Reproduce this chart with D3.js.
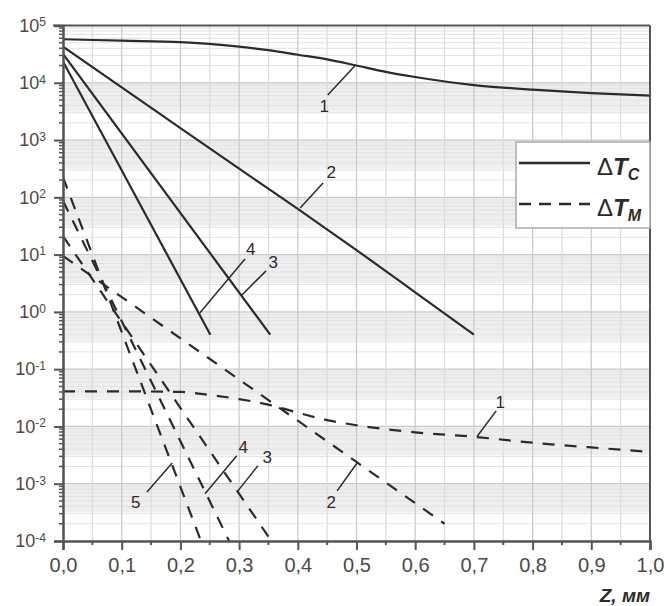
<!DOCTYPE html>
<html>
<head>
<meta charset="utf-8">
<script src="https://cdn.jsdelivr.net/npm/d3@7"></script>
<style>
  body { margin: 0; background: #fff; }
  text { font-family: "Liberation Sans", Arial, sans-serif; }
</style>
</head>
<body>
<svg id="chart" width="668" height="606"></svg>
<script>
// Z, mm on the bottom, log dT on the left
const zTicks = [0, 0.1, 0.2, 0.3, 0.4, 0.5, 0.6, 0.7, 0.8, 0.9, 1.0];
const zTickLabels = ["0,0", "0,1", "0,2", "0,3", "0,4", "0,5", "0,6", "0,7", "0,8", "0,9", "1,0"];
const decadeExp = [-4, -3, -2, -1, 0, 1, 2, 3, 4, 5];

// solid curves (dTc)
const tc1Z = [0, 0.1, 0.2, 0.3, 0.35, 0.4, 0.45, 0.5, 0.55, 0.6, 0.7, 0.8, 0.9, 1.0];
const tc1V = [5.75e4, 5.43e4, 5.13e4, 4.27e4, 3.72e4, 3.09e4, 2.57e4, 2.0e4, 1.55e4, 1.26e4, 9.1e3, 7.6e3, 6.6e3, 5.96e3];
const tc2Z = [0, 0.1, 0.2, 0.3, 0.4, 0.5, 0.6, 0.7];
const tc2V = [4.27e4, 8.3e3, 1.62e3, 316, 63, 12, 2.2, 0.4];
const tc3Z = [0, 0.353];
const tc3V = [3.2e4, 0.4];
const tc4Z = [0, 0.251];
const tc4V = [2.35e4, 0.4];

// dashed curves (dTm)
const tm1Z = [0, 0.1, 0.2, 0.25, 0.3, 0.35, 0.4, 0.45, 0.5, 0.6, 0.7, 0.8, 0.9, 1.0];
const tm1V = [0.041, 0.041, 0.040, 0.0355, 0.030, 0.024, 0.0174, 0.0129, 0.0105, 0.0079, 0.0066, 0.0052, 0.0043, 0.0036];
const tm2Z = [0, 0.65];
const tm2V = [9.5, 2.0e-4];
const tm3Z = [0, 0.355];
const tm3V = [21, 1e-4];
const tm4Z = [0, 0.283];
const tm4V = [87, 1e-4];
const tm5Z = [0, 0.235];
const tm5V = [224, 1e-4];

// curve numbers with their leader lines
const solidNotes = [
  {t: "1", z: 0.445, v: 3.1e3, lead: [[0.451, 6.1e3], [0.497, 1.96e4]]},
  {t: "2", z: 0.457, v: 218, lead: [[0.443, 178], [0.404, 65]]},
  {t: "4", z: 0.320, v: 9.9, lead: [[0.310, 8.4], [0.233, 0.96]]},
  {t: "3", z: 0.358, v: 5.9, lead: [[0.346, 5.2], [0.303, 1.9]]}
];
const dashedNotes = [
  {t: "1", z: 0.745, v: 0.0211, lead: [[0.738, 0.0187], [0.705, 6.6e-3]]},
  {t: "2", z: 0.457, v: 3.8e-4, lead: [[0.467, 7.5e-4], [0.501, 2.3e-3]]},
  {t: "3", z: 0.348, v: 2.3e-3, lead: [[0.332, 2.06e-3], [0.298, 7.5e-4]]},
  {t: "4", z: 0.307, v: 3.5e-3, lead: [[0.296, 3.07e-3], [0.242, 6.7e-4]]},
  {t: "5", z: 0.124, v: 3.8e-4, lead: [[0.143, 7.2e-4], [0.186, 2.3e-3]]}
];

const W = 668, H = 606;
const plotLeft = 63, plotRight = 650, plotTop = 25.5, plotBottom = 541;
const ink = "#2b2b2b";
const axisGrey = "#555";

const svg = d3.select("#chart");
svg.append("rect").attr("width", W).attr("height", H).attr("fill", "#fff");

const x = d3.scaleLinear().domain([0, 1]).range([plotLeft, plotRight]);
const y = d3.scaleLog().domain([1e-4, 1e5]).range([plotBottom, plotTop]);

// grey bands in the upper half of each decade
const bandGroup = svg.append("g");
bandGroup.selectAll("rect")
  .data(decadeExp.filter(k => k > -4 && k < 5))
  .join("rect")
  .attr("x", plotLeft)
  .attr("width", plotRight - plotLeft)
  .attr("y", k => y(Math.pow(10, k)))
  .attr("height", k => y(Math.pow(10, k - 0.5)) - y(Math.pow(10, k)))
  .attr("fill", "#efefef");

// grid
const gridGroup = svg.append("g");
const minorVals = [];
decadeExp.filter(k => k < 5).forEach(k => {
  for (let m = 2; m <= 9; m++) minorVals.push(m * Math.pow(10, k));
});
gridGroup.selectAll("line.hmin")
  .data(minorVals)
  .join("line")
  .attr("class", "hmin")
  .attr("x1", plotLeft).attr("x2", plotRight)
  .attr("y1", d => y(d)).attr("y2", d => y(d))
  .attr("stroke", "#e2e2e2").attr("stroke-width", 1);
gridGroup.selectAll("line.hmaj")
  .data(decadeExp.map(k => Math.pow(10, k)))
  .join("line")
  .attr("class", "hmaj")
  .attr("x1", plotLeft).attr("x2", plotRight)
  .attr("y1", d => y(d)).attr("y2", d => y(d))
  .attr("stroke", "#c9c9c9").attr("stroke-width", 1.2);
const zGrid = d3.range(0, 21).map(i => i * 0.05);
gridGroup.selectAll("line.v")
  .data(zGrid)
  .join("line")
  .attr("class", "v")
  .attr("x1", d => x(d)).attr("x2", d => x(d))
  .attr("y1", plotTop).attr("y2", plotBottom)
  .attr("stroke", (d, i) => i % 2 === 0 ? "#c9c9c9" : "#dcdcdc")
  .attr("stroke-width", 1.2);

// curves
svg.append("clipPath").attr("id", "plotClip")
  .append("rect").attr("x", plotLeft).attr("y", plotTop)
  .attr("width", plotRight - plotLeft).attr("height", plotBottom - plotTop);

const line = d3.line()
  .x(d => x(d[0]))
  .y(d => y(d[1]))
  .curve(d3.curveMonotoneX);

const solid = [[tc1Z, tc1V], [tc2Z, tc2V], [tc3Z, tc3V], [tc4Z, tc4V]];
const dashed = [[tm1Z, tm1V], [tm2Z, tm2V], [tm3Z, tm3V], [tm4Z, tm4V], [tm5Z, tm5V]];

const curveGroup = svg.append("g").attr("clip-path", "url(#plotClip)");
curveGroup.selectAll("path.solid")
  .data(solid)
  .join("path")
  .attr("class", "solid")
  .attr("d", s => line(d3.zip(s[0], s[1])))
  .attr("fill", "none").attr("stroke", ink).attr("stroke-width", 2.2);
curveGroup.selectAll("path.dashed")
  .data(dashed)
  .join("path")
  .attr("class", "dashed")
  .attr("d", s => line(d3.zip(s[0], s[1])))
  .attr("fill", "none").attr("stroke", ink).attr("stroke-width", 2.2)
  .attr("stroke-dasharray", "12,10");

// numbers + leaders
const noteLine = d3.line().x(d => x(d[0])).y(d => y(d[1]));
const noteGroup = svg.append("g");
const notes = solidNotes.concat(dashedNotes);
noteGroup.selectAll("path")
  .data(notes)
  .join("path")
  .attr("d", n => noteLine(n.lead))
  .attr("fill", "none").attr("stroke", ink).attr("stroke-width", 1.5);
noteGroup.selectAll("text")
  .data(notes)
  .join("text")
  .attr("x", n => x(n.z))
  .attr("y", n => y(n.v))
  .attr("text-anchor", "middle")
  .attr("font-size", 17)
  .attr("fill", ink)
  .text(n => n.t);

// frame
svg.append("line").attr("x1", 53).attr("x2", plotRight).attr("y1", plotTop).attr("y2", plotTop)
  .attr("stroke", axisGrey).attr("stroke-width", 2);
svg.append("line").attr("x1", plotRight).attr("x2", plotRight).attr("y1", plotTop).attr("y2", plotBottom)
  .attr("stroke", axisGrey).attr("stroke-width", 2);

// x axis
const xAxis = d3.axisBottom(x)
  .tickValues(zTicks)
  .tickFormat((d, i) => zTickLabels[i])
  .tickSize(9)
  .tickPadding(8);
const gx = svg.append("g").attr("transform", `translate(0,${plotBottom})`).call(xAxis);
gx.select(".domain").attr("stroke", axisGrey).attr("stroke-width", 2.5);
gx.selectAll(".tick line").attr("stroke", axisGrey).attr("stroke-width", 2);
gx.selectAll(".tick text")
  .attr("font-size", 20).attr("fill", "#4a4a4a")
  .attr("font-family", "'Liberation Sans', Arial, sans-serif");
gx.selectAll("line.xminor")
  .data(zGrid.filter((d, i) => i % 2 === 1))
  .join("line")
  .attr("class", "xminor")
  .attr("x1", d => x(d)).attr("x2", d => x(d))
  .attr("y1", 0).attr("y2", 4)
  .attr("stroke", axisGrey).attr("stroke-width", 2);

// y axis
const yAxis = d3.axisLeft(y)
  .tickValues(decadeExp.map(k => Math.pow(10, k)))
  .tickFormat("")
  .tickSize(9)
  .tickPadding(6);
const gy = svg.append("g").attr("transform", `translate(${plotLeft},0)`).call(yAxis);
gy.select(".domain").attr("stroke", axisGrey).attr("stroke-width", 2.5);
gy.selectAll(".tick line").attr("stroke", axisGrey).attr("stroke-width", 2);
gy.selectAll(".tick text").remove();
gy.selectAll(".tick").each(function(d) {
  const t = d3.select(this).append("text")
    .attr("x", -17).attr("dy", "0.32em")
    .attr("text-anchor", "end")
    .attr("font-size", 18).attr("fill", "#4a4a4a")
    .attr("font-family", "'Liberation Sans', Arial, sans-serif");
  t.append("tspan").text("10");
  t.append("tspan").attr("dy", "-0.45em").attr("font-size", 12)
    .text(String(Math.round(Math.log10(d))));
});
gy.selectAll("line.yminor")
  .data(minorVals)
  .join("line")
  .attr("class", "yminor")
  .attr("x1", -4).attr("x2", 0)
  .attr("y1", d => y(d)).attr("y2", d => y(d))
  .attr("stroke", axisGrey).attr("stroke-width", 1.5);

// axis title
svg.append("text")
  .attr("x", plotRight).attr("y", 602)
  .attr("text-anchor", "end")
  .attr("font-size", 19).attr("font-weight", "bold").attr("font-style", "italic")
  .attr("fill", ink)
  .text("Z, мм");

// legend
const legendItems = [
  {sub: "C", dash: null},
  {sub: "M", dash: "12,8"}
];
const lg = svg.append("g");
lg.append("rect")
  .attr("x", 516).attr("y", 142).attr("width", plotRight - 516).attr("height", 86)
  .attr("fill", "#fff").attr("stroke", "#aaa").attr("stroke-width", 1.5);
const li = lg.selectAll("g.item")
  .data(legendItems)
  .join("g")
  .attr("class", "item")
  .attr("transform", (d, i) => `translate(0,${163 + i * 41})`);
li.append("line")
  .attr("x1", 519).attr("x2", 590)
  .attr("stroke", ink).attr("stroke-width", 2.5)
  .attr("stroke-dasharray", d => d.dash);
const lt = li.append("text")
  .attr("x", 597).attr("y", 12)
  .attr("font-size", 24).attr("fill", ink);
lt.append("tspan").text("Δ");
lt.append("tspan").attr("font-weight", "bold").attr("font-style", "italic").text("T");
lt.append("tspan").attr("font-weight", "bold").attr("font-style", "italic")
  .attr("font-size", 16).attr("dy", 5).text(d => d.sub);
</script>
</body>
</html>
